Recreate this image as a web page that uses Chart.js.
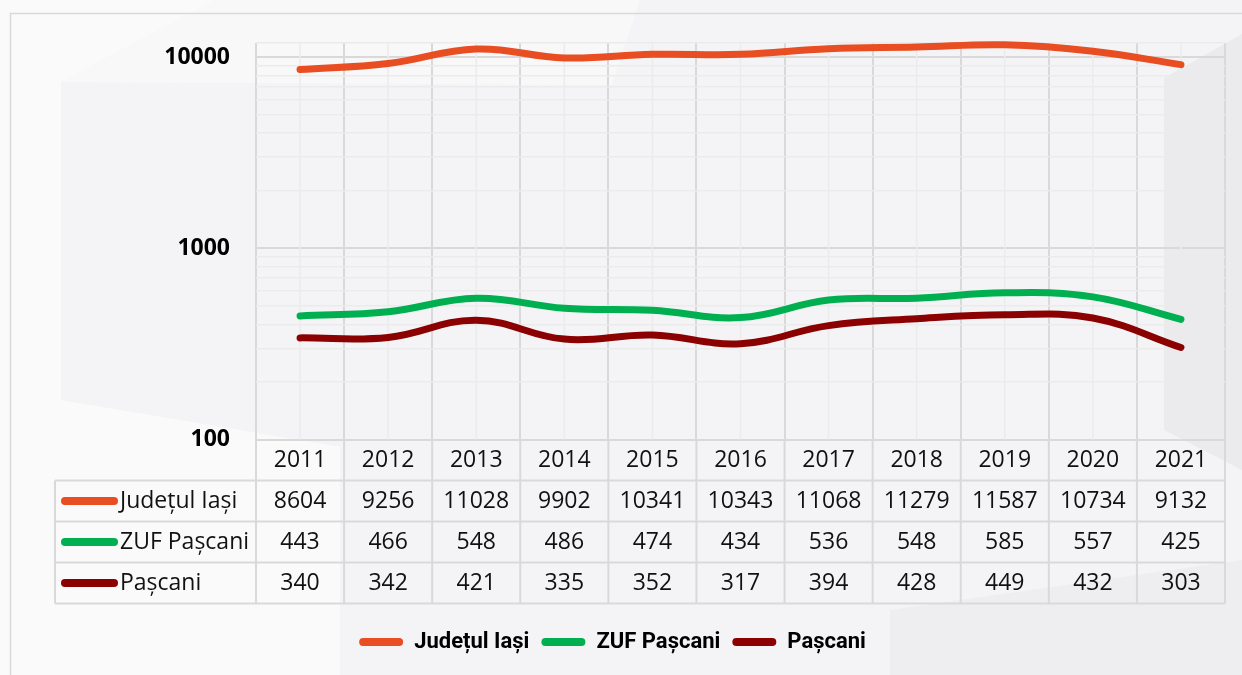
<!DOCTYPE html>
<html lang="ro">
<head>
    <meta charset="UTF-8">
    <title>Județul Iași / ZUF Pașcani / Pașcani</title>
    <script src="https://cdn.jsdelivr.net/npm/chart.js"></script>
    <style>
        html, body { margin: 0; padding: 0; background: #f4f4f6; }
        #wrap { width: 1242px; height: 675px; }
    </style>
</head>
<body>
    <div id="wrap"><canvas id="popChart" width="1242" height="675"></canvas></div>
    <script>
        // data
        const years = ['2011', '2012', '2013', '2014', '2015', '2016', '2017', '2018', '2019', '2020', '2021'];
        const seriesNames = ['Județul Iași', 'ZUF Pașcani', 'Pașcani'];
        const judetulIasi = [8604, 9256, 11028, 9902, 10341, 10343, 11068, 11279, 11587, 10734, 9132];
        const zufPascani = [443, 466, 548, 486, 474, 434, 536, 548, 585, 557, 425];
        const pascani = [340, 342, 421, 335, 352, 317, 394, 428, 449, 432, 303];
        const yMajorTicks = [100, 1000, 10000];
        const yMax = 11850;

        // minor log gridlines 200..900, 2000..9000 plus the top edge
        const yGridTicks = [];
        yMajorTicks.forEach((p, i) => {
            yGridTicks.push(p);
            if (i < yMajorTicks.length - 1) {
                for (let m = 2; m <= 9; m++) yGridTicks.push(p * m);
            }
        });
        yGridTicks.push(yMax);

        const rowH = 41;

        // faint hexagon-ish background + outer frame
        const backdrop = {
            id: 'backdrop',
            beforeDraw(chart) {
                const ctx = chart.ctx;
                const poly = (pts, color) => {
                    ctx.beginPath();
                    pts.forEach((p, i) => i ? ctx.lineTo(p[0], p[1]) : ctx.moveTo(p[0], p[1]));
                    ctx.closePath();
                    ctx.fillStyle = color;
                    ctx.fill();
                };
                ctx.save();
                ctx.fillStyle = '#f4f4f6';
                ctx.fillRect(0, 0, chart.width, chart.height);
                poly([[0, 0], [215, 0], [61, 82], [61, 400], [340, 447], [340, 675], [0, 675]], '#fafafa');
                poly([[215, 0], [640, 0], [612, 85], [61, 82]], '#f8f8f9');
                poly([[1164, 78], [1242, 34], [1242, 470], [1164, 430]], '#ebebed');
                poly([[890, 610], [1242, 560], [1242, 675], [890, 675]], '#eeeef0');
                ctx.strokeStyle = '#d9d9d9';
                ctx.lineWidth = 1.5;
                ctx.strokeRect(10.5, 13.5, 1300, 700);
                ctx.restore();
            }
        };

        // light gridlines through the middle of every year
        const centerLines = {
            id: 'centerLines',
            beforeDatasetsDraw(chart) {
                const ctx = chart.ctx;
                const x = chart.scales.x;
                const area = chart.chartArea;
                ctx.save();
                ctx.strokeStyle = '#ebebeb';
                ctx.lineWidth = 1.5;
                years.forEach((y, i) => {
                    const px = x.getPixelForValue(i);
                    ctx.beginPath();
                    ctx.moveTo(px, area.top);
                    ctx.lineTo(px, area.bottom);
                    ctx.stroke();
                });
                ctx.restore();
            }
        };

        // Excel style data table under the plot
        const dataTable = {
            id: 'dataTable',
            afterDraw(chart) {
                const ctx = chart.ctx;
                const x = chart.scales.x;
                const area = chart.chartArea;
                const top = area.bottom;
                const bottom = top + rowH * 4;
                const labelLeft = 55;
                const rows = chart.data.datasets;

                ctx.save();
                ctx.strokeStyle = '#d9d9d9';
                ctx.lineWidth = 2;

                // vertical lines at year boundaries
                for (let i = 0; i <= years.length; i++) {
                    const px = i < years.length
                        ? x.getPixelForValue(i) - x.width / years.length / 2
                        : area.right;
                    ctx.beginPath();
                    ctx.moveTo(px, top);
                    ctx.lineTo(px, bottom);
                    ctx.stroke();
                }
                // label column left edge
                ctx.beginPath();
                ctx.moveTo(labelLeft, top + rowH);
                ctx.lineTo(labelLeft, bottom);
                ctx.stroke();
                // row lines
                for (let r = 1; r <= 4; r++) {
                    ctx.beginPath();
                    ctx.moveTo(labelLeft, top + rowH * r);
                    ctx.lineTo(area.right, top + rowH * r);
                    ctx.stroke();
                }

                ctx.fillStyle = '#111';
                ctx.font = '23px "Open Sans"';
                ctx.textAlign = 'center';
                ctx.textBaseline = 'middle';
                years.forEach((y, i) => {
                    ctx.fillText(y, x.getPixelForValue(i), top + rowH / 2);
                });
                rows.forEach((ds, r) => {
                    const cy = top + rowH * (r + 1) + rowH / 2;
                    ds.data.forEach((v, i) => {
                        ctx.fillText(String(v), x.getPixelForValue(i), cy);
                    });
                    // key line
                    ctx.strokeStyle = ds.borderColor;
                    ctx.lineWidth = 8;
                    ctx.lineCap = 'round';
                    ctx.beginPath();
                    ctx.moveTo(65, cy);
                    ctx.lineTo(114, cy);
                    ctx.stroke();
                    ctx.textAlign = 'left';
                    ctx.fillText(ds.label, 120, cy);
                    ctx.textAlign = 'center';
                });
                ctx.restore();
            }
        };

        const line = (label, data, color) => ({
            label: label,
            data: data,
            borderColor: color,
            backgroundColor: color,
            borderWidth: 7,
            borderCapStyle: 'round',
            borderJoinStyle: 'round',
            tension: 0.4,
            pointRadius: 0,
            pointHoverRadius: 0,
            fill: false,
            clip: false
        });

        new Chart(document.getElementById('popChart'), {
            type: 'line',
            data: {
                labels: years,
                datasets: [
                    line(seriesNames[0], judetulIasi, '#e84e22'),
                    line(seriesNames[1], zufPascani, '#00b050'),
                    line(seriesNames[2], pascani, '#8b0000')
                ]
            },
            options: {
                responsive: false,
                animation: false,
                events: [],
                layout: { padding: { top: 43, right: 17, left: 0, bottom: 12 } },
                scales: {
                    x: {
                        type: 'category',
                        offset: true,
                        grid: { offset: true, drawTicks: false, color: '#d9d9d9', lineWidth: 2 },
                        border: { display: false },
                        ticks: { display: false },
                        afterFit: s => { s.height = rowH * 4 + 15.5; }
                    },
                    y: {
                        type: 'logarithmic',
                        min: 100,
                        max: yMax,
                        afterBuildTicks: s => { s.ticks = yGridTicks.map(v => ({ value: v })); },
                        afterFit: s => { s.width = 256; },
                        border: { display: false },
                        grid: {
                            drawTicks: false,
                            color: c => yMajorTicks.includes(c.tick.value) ? '#d9d9d9' : '#ebebeb',
                            lineWidth: c => yMajorTicks.includes(c.tick.value) ? 2 : 1.5
                        },
                        ticks: {
                            autoSkip: false,
                            padding: 26,
                            color: '#000',
                            font: { family: 'Open Sans', size: 23, weight: 'bold' },
                            callback: v => yMajorTicks.includes(v) ? String(v) : ''
                        }
                    }
                },
                plugins: {
                    tooltip: { enabled: false },
                    legend: {
                        position: 'bottom',
                        labels: {
                            boxWidth: 44,
                            boxHeight: 8,
                            useBorderRadius: true,
                            borderRadius: 4,
                            padding: 12,
                            color: '#000',
                            font: { family: 'Roboto', size: 22, weight: 'bold' },
                            generateLabels: chart => Chart.defaults.plugins.legend.labels.generateLabels(chart)
                                .map(l => Object.assign(l, { lineWidth: 0 }))
                        }
                    }
                }
            },
            plugins: [backdrop, centerLines, dataTable]
        });
    </script>
</body>
</html>
